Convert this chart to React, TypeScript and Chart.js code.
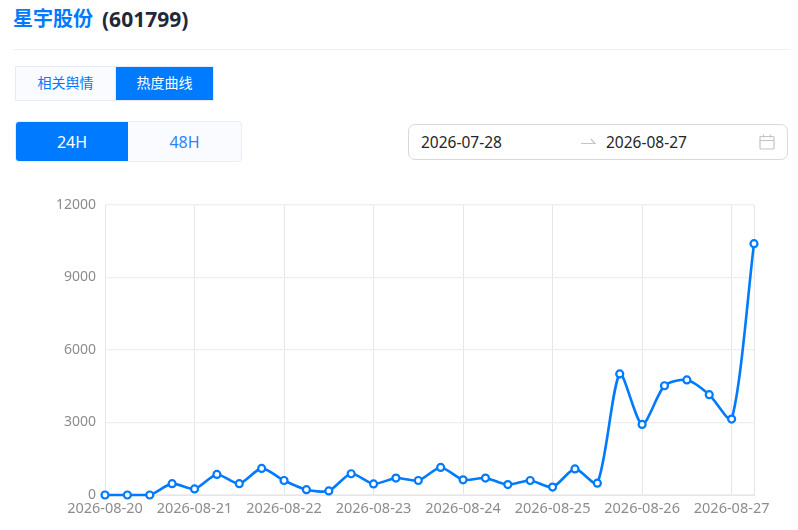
import React, { useEffect, useRef } from "react";
import { Chart, registerables } from "chart.js";

Chart.register(...registerables);

const tickLabels = [
  "2026-08-20", "", "", "", "2026-08-21", "", "", "", "2026-08-22", "", "", "", "2026-08-23", "", "", "",
  "2026-08-24", "", "", "", "2026-08-25", "", "", "", "2026-08-26", "", "", "", "2026-08-27", "",
];
const heatValues = [
  0, 0, 0, 470, 250, 850, 470, 1100, 600, 220, 170, 880, 460, 700, 600, 1140,
  630, 700, 430, 600, 330, 1080, 490, 5010, 2920, 4520, 4760, 4150, 3140, 10400,
];
const yTicks = [0, 3000, 6000, 9000, 12000];

const FONT = '"Noto Sans", "Noto Sans CJK SC", sans-serif';
const BLUE = "#007aff";
const abs = (left: number, top: number, width: number, height: number): React.CSSProperties => ({
  position: "absolute", left, top, width, height, boxSizing: "border-box",
});

export default function App() {
  const ref = useRef<HTMLCanvasElement>(null);
  useEffect(() => {
    const chart = new Chart(ref.current!, {
      type: "line",
      data: {
        labels: tickLabels,
        datasets: [{
          data: heatValues,
          borderColor: BLUE,
          borderWidth: 2.6,
          tension: 0.25,
          pointRadius: 3.5,
          pointBorderWidth: 2.2,
          pointBackgroundColor: "#fff",
          pointBorderColor: BLUE,
          clip: false,
        }],
      },
      options: {
        animation: false,
        responsive: false,
        layout: { padding: { top: 205, right: 44, left: 0, bottom: 0 } },
        plugins: { legend: { display: false }, tooltip: { enabled: false } },
        scales: {
          x: {
            offset: false,
            afterFit: (s: any) => { s.height = 35; },
            border: { color: "#e6e6e6" },
            grid: {
              drawTicks: false,
              color: (c: any) => (tickLabels[c.index] || c.index === tickLabels.length - 1 ? "#e6e6e6" : "transparent"),
            },
            ticks: {
              autoSkip: false, maxRotation: 0, minRotation: 0, padding: 5,
              color: "#8c8c8c", font: { family: FONT, size: 14.5 },
            },
          },
          y: {
            min: 0, max: 12000,
            afterFit: (s: any) => { s.width = 105; },
            afterBuildTicks: (s: any) => { s.ticks = yTicks.map((value) => ({ value })); },
            border: { color: "#e6e6e6" },
            grid: { drawTicks: false, color: "#eeeeee", lineWidth: 1.2 },
            ticks: {
              padding: 9, color: "#8c8c8c", font: { family: FONT, size: 14 },
              callback: (v: any) => String(v),
            },
          },
        },
      },
    });
    return () => chart.destroy();
  }, []);

  return (
    <div style={{ ...abs(0, 0, 798, 530), background: "#fff", fontFamily: FONT, overflow: "hidden" }}>
      <div style={{ position: "absolute", left: 13, top: 5, fontSize: 20, fontWeight: 700, lineHeight: "28px", whiteSpace: "nowrap", color: "#1f2937" }}>
        <span style={{ color: BLUE }}>星宇股份</span>
        <span style={{ position: "absolute", left: 89, top: 0, fontSize: 21 }}>(601799)</span>
      </div>
      <div style={{ ...abs(13, 49, 777, 1), background: "#eef0f4" }} />

      <div style={{ ...abs(15, 66, 101, 35), background: "#f9fbff", border: "1px solid #e4ecf7", color: BLUE, fontSize: 14, textAlign: "center", lineHeight: "32px" }}>相关舆情</div>
      <div style={{ ...abs(115, 66, 99, 35), background: BLUE, border: "1px solid #e4ecf7", color: "#fff", fontSize: 14, textAlign: "center", lineHeight: "32px" }}>热度曲线</div>

      <div style={{ ...abs(15, 121, 227, 41), background: "#f9fbff", border: "1px solid #e8edf5", borderRadius: 4 }} />
      <div style={{ ...abs(16, 122, 112, 39), background: BLUE, borderRadius: "3px 0 0 3px", color: "#fff", fontSize: 16, textAlign: "center", lineHeight: "41px" }}>24H</div>
      <div style={{ ...abs(128, 122, 113, 39), color: "#2f84f5", fontSize: 16, textAlign: "center", lineHeight: "41px" }}>48H</div>

      <div style={{ ...abs(408, 124, 380, 36), border: "1px solid #d9d9d9", borderRadius: 7, background: "#fff" }} />
      <div style={{ position: "absolute", left: 421, top: 132, fontSize: 15.5, lineHeight: "20px", color: "#262626" }}>2026-07-28</div>
      <div style={{ position: "absolute", left: 606, top: 132, fontSize: 15.5, lineHeight: "20px", color: "#262626" }}>2026-08-27</div>
      <svg style={{ position: "absolute", left: 580, top: 134 }} width="16" height="12" viewBox="0 0 16 12" fill="none" stroke="#c4c4c4" strokeWidth="1.2">
        <path d="M1 9.5H15L11 5" />
      </svg>
      <svg style={{ position: "absolute", left: 759, top: 134 }} width="16" height="16" viewBox="0 0 16 16" fill="none" stroke="#c4c4c4" strokeWidth="1.2">
        <rect x="1" y="2.5" width="14" height="12.5" rx="1" />
        <path d="M1 6.5H15M4.5 0.5V3.5M11.5 0.5V3.5" />
      </svg>

      <canvas ref={ref} width={798} height={530} style={{ position: "absolute", left: 0, top: 0, width: 798, height: 530 }} />
    </div>
  );
}
